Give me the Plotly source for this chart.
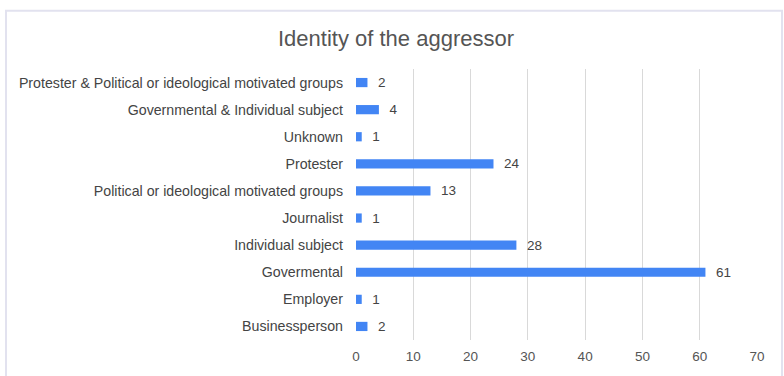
import plotly.graph_objects as go

categories = [
    "Businessperson",
    "Employer",
    "Govermental",
    "Individual subject",
    "Journalist",
    "Political or ideological motivated groups",
    "Protester",
    "Unknown",
    "Governmental & Individual subject",
    "Protester & Political or ideological motivated groups",
]
counts = [2, 1, 61, 28, 1, 13, 24, 1, 4, 2]
x_ticks = [0, 10, 20, 30, 40, 50, 60, 70]

FONT = "Liberation Sans, Arial, sans-serif"

fig = go.Figure(
    go.Bar(
        x=counts,
        y=categories,
        orientation="h",
        marker=dict(color="#4285f4", line=dict(width=0)),
        width=0.34,
        text=counts,
        texttemplate="  %{x}",
        textposition="outside",
        constraintext="none",
        textfont=dict(family=FONT, size=13.5, color="#444444"),
        cliponaxis=False,
    )
)

# plot-area geometry in pixels, used to place the outer frame in paper units
L, R, T, B = 356, 27, 69, 32
W, H = 784, 376
pw, ph = W - L - R, H - T - B


def px_x(p):
    return (p - L) / pw


def px_y(p):
    return (H - B - p) / ph


fig.add_shape(
    type="rect",
    xref="paper", yref="paper",
    x0=px_x(6), x1=px_x(782), y0=px_y(400), y1=px_y(10),
    line=dict(color="#e2e2ef", width=2),
    fillcolor="rgba(0,0,0,0)",
    layer="below",
)

fig.update_layout(
    width=W,
    height=H,
    margin=dict(l=L, r=R, t=T, b=B),
    paper_bgcolor="white",
    plot_bgcolor="white",
    showlegend=False,
    title=dict(
        text="Identity of the aggressor",
        x=px_x(396), xref="paper", xanchor="center",
        y=1 - 38 / H, yanchor="middle",
        font=dict(family=FONT, size=22, color="#555555"),
    ),
    xaxis=dict(
        range=[0, 70],
        tickvals=x_ticks,
        showgrid=True,
        gridcolor="#d9d9d9",
        gridwidth=1,
        zeroline=False,
        showline=False,
        tickfont=dict(family=FONT, size=13.5, color="#555555"),
        ticklabelstandoff=6,
    ),
    yaxis=dict(
        showgrid=False,
        zeroline=False,
        showline=False,
        ticklabelstandoff=12,
        tickfont=dict(family=FONT, size=14.2, color="#444444"),
    ),
    bargap=0.66,
)

fig.write_html("out.html")
